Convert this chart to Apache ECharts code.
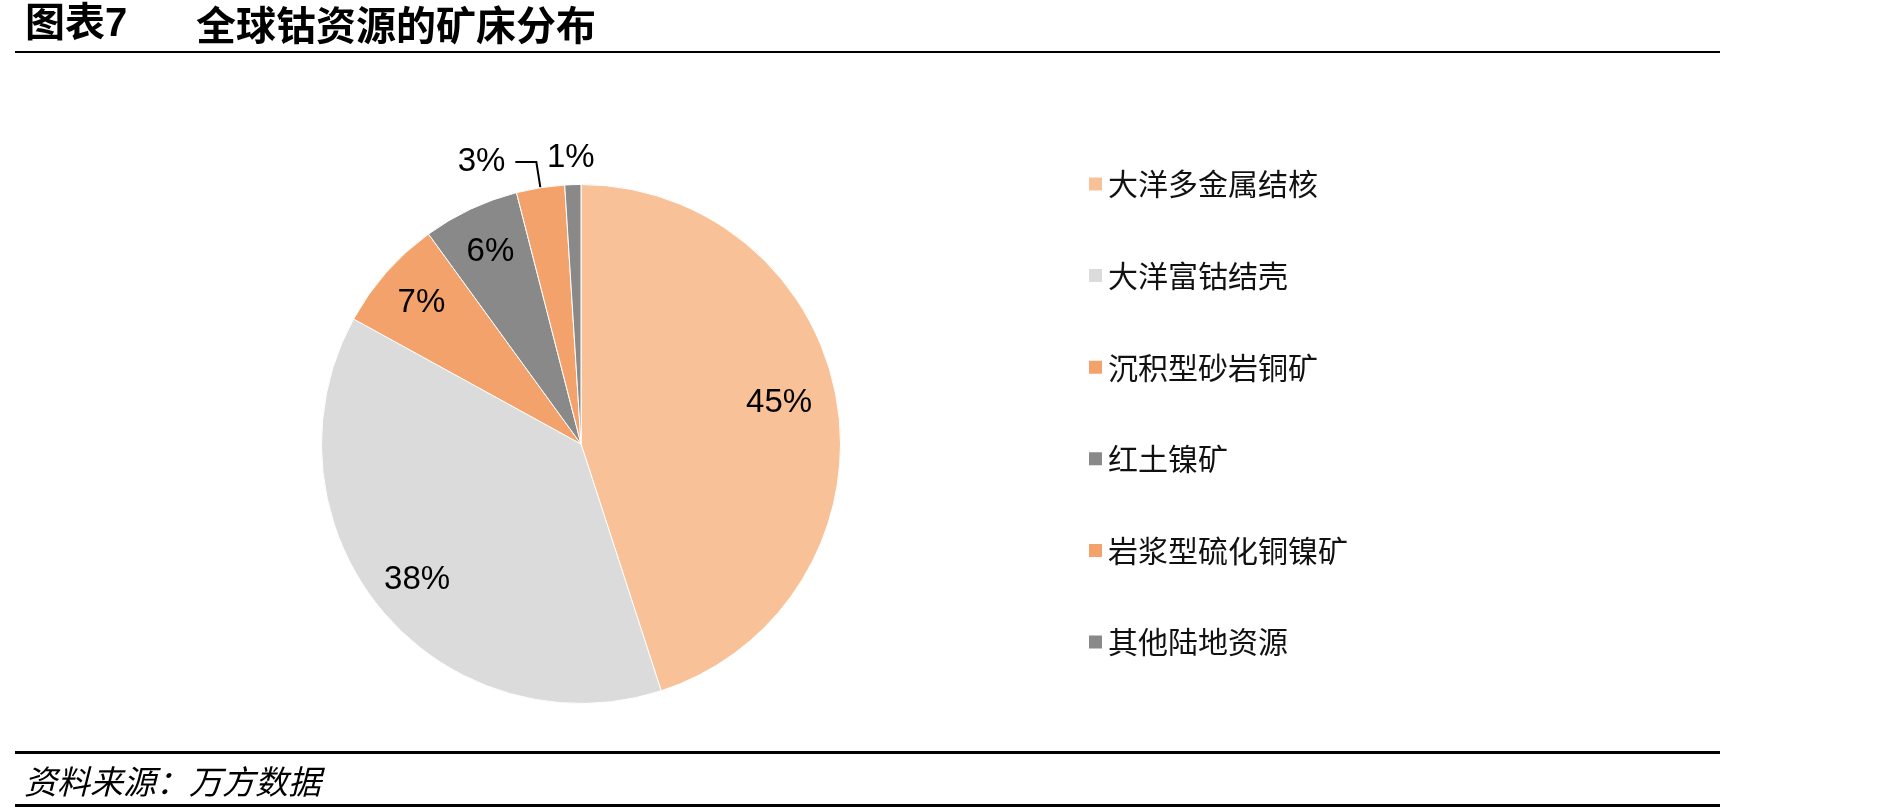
<!DOCTYPE html>
<html>
<head>
<meta charset="utf-8">
<title>全球钴资源的矿床分布</title>
<script src="https://cdn.jsdelivr.net/npm/echarts@6/dist/echarts.min.js"></script>
<style>
  html, body { margin: 0; padding: 0; background: #fff; }
  #chart { width: 1889px; height: 812px; }
</style>
</head>
<body>
<div id="chart"></div>
<script>
// 矿床类型与占比（%）
const categories = ['大洋多金属结核', '大洋富钴结壳', '沉积型砂岩铜矿', '红土镍矿', '岩浆型硫化铜镍矿', '其他陆地资源'];
const shares = [45, 38, 7, 6, 3, 1];
const palette = ['#F8C198', '#DBDBDB', '#F3A26B', '#898989', '#F3A26B', '#898989'];

const cjk = '"Noto Sans CJK SC", sans-serif';
const latin = '"Liberation Sans", Arial, "Noto Sans CJK SC", sans-serif';
const center = [581, 444];
const R = 259.5;

const chart = echarts.init(document.getElementById('chart'), null, { renderer: 'canvas' });

const pieData = categories.map(function (name, i) {
  return { name: name, value: shares[i], itemStyle: { color: palette[i] } };
});

// 标签用的透明外环，让百分比落在约 0.8R 处
const labelData = categories.map(function (name, i) {
  const d = { name: name, value: shares[i] };
  if (i === 4) {
    d.label = { position: 'outside', distanceToLabelLine: 10, padding: [0, 0, 20, 0] };
    d.labelLine = { show: true, length: 26, length2: 21, lineStyle: { color: '#000', width: 2 } };
  }
  return d;
});

const option = {
  backgroundColor: '#ffffff',
  animation: false,
  legend: {
    orient: 'vertical',
    left: 1082,
    top: 164,
    icon: 'rect',
    itemWidth: 15,
    itemHeight: 15,
    itemGap: 61.6,
    selectedMode: false,
    data: categories,
    textStyle: { fontFamily: cjk, fontSize: 30, lineHeight: 30, color: '#111' }
  },
  graphic: [
    { type: 'text', x: 25, y: 25, style: { text: '图表7', font: 'bold 40px ' + latin, fill: '#000', verticalAlign: 'middle' } },
    { type: 'text', x: 196, y: 25, style: { text: '全球钴资源的矿床分布', font: 'bold 40px ' + cjk, fill: '#000', verticalAlign: 'middle' } },
    { type: 'line', shape: { x1: 15, y1: 52, x2: 1720, y2: 52 }, style: { stroke: '#000', lineWidth: 2 } },
    { type: 'line', shape: { x1: 15, y1: 752.5, x2: 1720, y2: 752.5 }, style: { stroke: '#000', lineWidth: 3 } },
    { type: 'text', x: 24, y: 781, style: { text: '资料来源：万方数据', font: 'italic 33px ' + cjk, fill: '#000', verticalAlign: 'middle' } },
    { type: 'line', shape: { x1: 15, y1: 805.5, x2: 1720, y2: 805.5 }, style: { stroke: '#000', lineWidth: 3 } }
  ],
  series: [
    {
      type: 'pie',
      center: center,
      radius: R,
      startAngle: 90,
      silent: true,
      itemStyle: { borderColor: '#fff', borderWidth: 1 },
      label: { show: false },
      labelLine: { show: false },
      data: pieData
    },
    {
      type: 'pie',
      center: center,
      radius: [160, R],
      startAngle: 90,
      silent: true,
      avoidLabelOverlap: false,
      itemStyle: { color: 'rgba(0,0,0,0)' },
      label: {
        show: true,
        position: 'inside',
        formatter: '{c}%',
        fontFamily: latin,
        fontSize: 33,
        color: '#000'
      },
      labelLine: { show: false },
      labelLayout: function (p) {
        if (p.dataIndex === 0) return { dx: -12, dy: -8 };
        // 1% 放在扇区外侧正上方
        if (p.dataIndex !== 5) return {};
        return { x: p.rect.x + p.rect.width / 2 - 2, y: p.rect.y - 27, align: 'center', verticalAlign: 'middle' };
      },
      data: labelData
    }
  ]
};

chart.setOption(option);
</script>
</body>
</html>
